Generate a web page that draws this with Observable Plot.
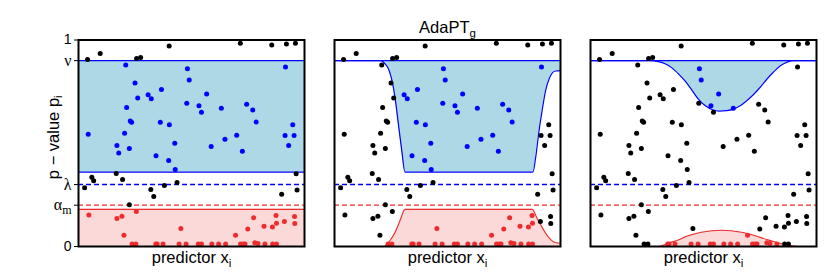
<!DOCTYPE html>
<html><head><meta charset="utf-8">
<script src="https://cdn.jsdelivr.net/npm/d3@7"></script>
<script src="https://cdn.jsdelivr.net/npm/@observablehq/plot@0.6"></script>
<style>body{margin:0;background:#fff} svg{display:block}</style>
</head><body><div id="chart"></div>
<script>
// ---- data ----
const panels = [1, 2, 3];
const NU = 0.9, LAMBDA = 0.3, ALPHA_M = 0.2;
const title = "AdaPT", titleSub = "g";
const xLabel = "predictor x", xLabelSub = "i";
const yLabel = "p \u2212 value p", yLabelSub = "i";
const yTicks = [1, NU, LAMBDA, ALPHA_M, 0];
const yTickLabels = ["1", "\u03bd", "\u03bb", "\u03b1", "0"];
const alphaSub = "m";

// points (same p-values / predictors in every panel)
const predictor = [
  0.040, 0.096, 0.257, 0.275, 0.401, 0.716, 0.855, 0.920, 0.960,
  0.043, 0.209, 0.250, 0.262, 0.213, 0.229, 0.235, 0.204, 0.170, 0.178, 0.225,
  0.308, 0.322, 0.367, 0.362, 0.402, 0.343, 0.399, 0.426, 0.428, 0.479,
  0.482, 0.490, 0.533, 0.544, 0.567, 0.587, 0.632, 0.648, 0.700, 0.725,
  0.744, 0.771, 0.786, 0.916, 0.914, 0.930, 0.948, 0.954,
  0.027, 0.059, 0.067, 0.167, 0.195, 0.225, 0.320, 0.333, 0.380, 0.436, 0.899, 0.963, 0.967,
  0.046, 0.170, 0.192, 0.201, 0.256, 0.453, 0.695, 0.749, 0.775, 0.821, 0.858, 0.874, 0.876, 0.911, 0.956, 0.957,
  0.237, 0.254, 0.342, 0.348, 0.374, 0.445, 0.476, 0.530, 0.544, 0.590, 0.620, 0.651,
  0.717, 0.729, 0.737, 0.780, 0.794, 0.825, 0.859, 0.876
];
const pvalue = [
  0.905, 0.935, 0.911, 0.915, 0.971, 0.984, 0.976, 0.981, 0.984,
  0.544, 0.879, 0.792, 0.719, 0.673, 0.608, 0.602, 0.548, 0.489, 0.453, 0.474,
  0.735, 0.715, 0.760, 0.602, 0.590, 0.439, 0.416, 0.500, 0.373, 0.694,
  0.861, 0.806, 0.681, 0.650, 0.739, 0.484, 0.669, 0.519, 0.539, 0.461,
  0.689, 0.661, 0.603, 0.869, 0.537, 0.489, 0.589, 0.537,
  0.284, 0.335, 0.318, 0.353, 0.324, 0.202, 0.276, 0.242, 0.295, 0.310, 0.253, 0.352, 0.274,
  0.153, 0.135, 0.147, 0.055, 0.169, 0.087, 0.055, 0.085, 0.139, 0.098, 0.094, 0.150, 0.113, 0.121, 0.145, 0.111,
  0.012, 0.012, 0.012, 0.012, 0.012, 0.012, 0.012, 0.012, 0.012, 0.012, 0.012, 0.012,
  0.012, 0.012, 0.012, 0.018, 0.015, 0.012, 0.012, 0.012
];

// rejection threshold s(x) and mirrored lower bound, per panel
const s1x = [0, 1], s1 = [0.18, 0.18];
const b1x = [0, 1], b1 = [0.36, 0.36];
const s2x = [0, 0.217, 0.231, 0.246, 0.268, 0.290, 0.309, 0.312, 0.876, 0.880, 0.897, 0.915, 0.940, 0.960, 0.980, 1];
const s2  = [0, 0,     0.010, 0.029, 0.069, 0.126, 0.177, 0.180, 0.180, 0.175, 0.135, 0.100, 0.055, 0.030, 0.018, 0.016];
const b2x = [0, 0.206, 0.224, 0.239, 0.253, 0.268, 0.283, 0.297, 0.312, 0.878, 0.890, 0.905, 0.919, 0.934, 0.949, 0.963, 0.978, 1];
const b2  = [0.9, 0.9, 0.884, 0.860, 0.810, 0.720, 0.590, 0.470, 0.360, 0.360, 0.430, 0.560, 0.660, 0.755, 0.810, 0.840, 0.850, 0.852];
const s3x = [0, 0.300, 0.344, 0.388, 0.432, 0.491, 0.579, 0.668, 0.726, 0.785, 0.837, 0.860, 0.890, 0.920, 1];
const s3  = [0, 0,     0.016, 0.032, 0.052, 0.069, 0.079, 0.069, 0.053, 0.032, 0.016, 0.009, 0.003, 0,     0];
const b3x = [0, 0.27, 0.30, 0.33, 0.36, 0.39, 0.42, 0.45, 0.48, 0.51, 0.54, 0.57, 0.60, 0.63, 0.66, 0.69, 0.72, 0.75, 0.78, 0.81, 0.84, 0.87, 0.90, 1];
const b3  = [0.9, 0.9, 0.895, 0.885, 0.865, 0.835, 0.80, 0.755, 0.71, 0.68, 0.662, 0.656, 0.658, 0.664, 0.68, 0.705, 0.735, 0.77, 0.81, 0.845, 0.875, 0.893, 0.9, 0.9];

// ---- build tables ----
const thr = {1: [s1x, s1, b1x, b1], 2: [s2x, s2, b2x, b2], 3: [s3x, s3, b3x, b3]};
function interp(xs, ys, x) {
  const i = d3.bisectRight(xs, x);
  if (i <= 0) return ys[0];
  if (i >= xs.length) return ys[ys.length - 1];
  const t = (x - xs[i - 1]) / (xs[i] - xs[i - 1]);
  return ys[i - 1] + t * (ys[i] - ys[i - 1]);
}
const redRows = [], blueRows = [], pts = [];
for (const k of panels) {
  const [sx, sy, bx, by] = thr[k];
  sx.forEach((x, i) => redRows.push({panel: k, x, s: sy[i]}));
  bx.forEach((x, i) => blueRows.push({panel: k, x, lower: by[i]}));
  predictor.forEach((x, i) => {
    const p = pvalue[i];
    const s = interp(sx, sy, x), b = interp(bx, by, x);
    const cls = p < s ? "rejected" : (p >= b && p <= NU ? "masked" : "other");
    pts.push({panel: k, x, p, cls});
  });
}

const BLUE = "#0000ff", RED = "#ee2c2c";
const serif = "'Liberation Serif', 'DejaVu Serif', serif";

const chart = Plot.plot({
  width: 830, height: 277,
  marginLeft: 77.5, marginRight: 13.5, marginTop: 39.5, marginBottom: 31,
  x: {domain: [0, 1], axis: null},
  y: {domain: [0, 1]},
  fx: {domain: panels, paddingInner: 0.116, paddingOuter: 0, axis: null, label: null},
  color: {domain: ["other", "masked", "rejected"], range: ["black", BLUE, RED]},
  style: {fontFamily: "'Liberation Sans', Arial, sans-serif", fontSize: "13px", background: "white", color: "black"},
  marks: [
    Plot.areaY(blueRows, {x: "x", y1: "lower", y2: () => NU, fx: "panel", fill: "lightblue", curve: "monotone-x"}),
    Plot.areaY(redRows, {x: "x", y: "s", fx: "panel", fill: RED, fillOpacity: 0.18, curve: "monotone-x"}),
    Plot.ruleY([NU], {stroke: BLUE, strokeWidth: 1.2}),
    Plot.line(blueRows, {x: "x", y: "lower", fx: "panel", stroke: BLUE, strokeWidth: 1.2, curve: "monotone-x"}),
    Plot.line(redRows, {x: "x", y: "s", fx: "panel", stroke: RED, strokeWidth: 1.1, curve: "monotone-x"}),
    Plot.ruleY([LAMBDA], {stroke: BLUE, strokeWidth: 1.5, strokeDasharray: "5,3"}),
    Plot.ruleY([ALPHA_M], {stroke: RED, strokeWidth: 1.3, strokeDasharray: "5,3"}),
    Plot.dot(pts, {x: "x", y: "p", fx: "panel", fill: "cls", r: 2.5}),
    Plot.frame({stroke: "black", strokeWidth: 2}),
    Plot.axisY({ticks: yTicks, tickFormat: d => yTickLabels[yTicks.indexOf(d)], tickSize: 4, tickPadding: 3, fontSize: 14, label: null}),
    Plot.text(panels.map(k => ({panel: k})), {fx: "panel", frameAnchor: "bottom", text: () => xLabel, lineAnchor: "top", dy: 5, fontSize: 16.5}),
    Plot.text([{panel: 2}], {fx: "panel", frameAnchor: "top", text: () => title, dy: -18.5, fontSize: 16.5}),
    Plot.text([{panel: 1}], {fx: "panel", frameAnchor: "left", textAnchor: "middle", text: () => yLabel, rotate: -90, dx: -25, dy: -6, fontSize: 16.5})
  ]
});
document.getElementById("chart").append(chart);

// subscripts and serif Greek letters
const svg = d3.select(chart);
function addSub(txt, sub, size) {
  svg.selectAll("text").filter(function() { return this.textContent === txt; })
    .append("tspan").attr("dy", "0.3em").attr("font-size", size).text(sub);
}
addSub(xLabel, xLabelSub, "11.5px");
addSub(title, titleSub, "11.5px");
addSub(yLabel, yLabelSub, "11.5px");
svg.selectAll("text").filter(function() { return ["\u03bd", "\u03bb", "\u03b1"].includes(this.textContent); })
  .attr("font-family", serif).attr("font-size", "16px");
addSub("\u03b1", alphaSub, "12px");
</script>
</body></html>
